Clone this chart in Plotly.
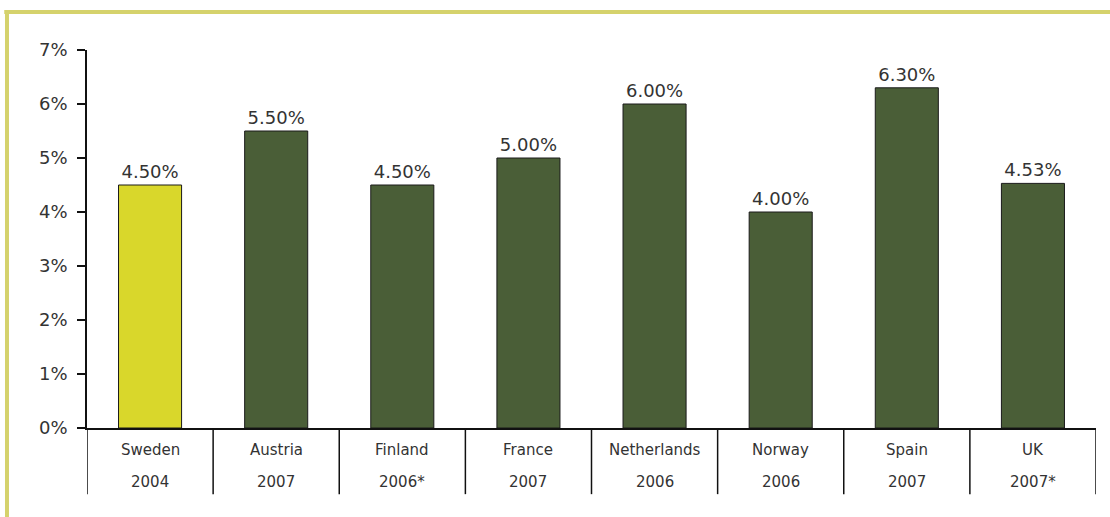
import plotly.graph_objects as go

countries = ["Sweden", "Austria", "Finland", "France", "Netherlands", "Norway", "Spain", "UK"]
years = ["2004", "2007", "2006*", "2007", "2006", "2006", "2007", "2007*"]
values = [4.50, 5.50, 4.50, 5.00, 6.00, 4.00, 6.30, 4.53]
bar_colors = ["#d9d72b", "#4a5e37", "#4a5e37", "#4a5e37", "#4a5e37", "#4a5e37", "#4a5e37", "#4a5e37"]
y_ticks = [0, 1, 2, 3, 4, 5, 6, 7]

FONT = "DejaVu Sans"
TXT = "#333333"

xs = list(range(len(countries)))

fig = go.Figure()
fig.add_trace(go.Bar(
    x=xs, y=values,
    width=0.5,
    marker=dict(color=bar_colors, line=dict(color="#1a1a1a", width=1)),
    texttemplate="%{y:.2f}%",
    textposition="outside",
    cliponaxis=False,
    textfont=dict(family=FONT, size=18, color=TXT),
    hoverinfo="skip",
))

shapes = []
for i in range(len(countries) + 1):
    shapes.append(dict(type="line", xref="x", yref="paper",
                       x0=i - 0.5, x1=i - 0.5, y0=0, y1=-0.175,
                       line=dict(color="#111111", width=1.5)))
shapes.append(dict(type="line", xref="paper", yref="paper",
                   x0=-0.082, x1=1.02, y0=1.1005, y1=1.1005,
                   line=dict(color="#d5d26c", width=4)))
shapes.append(dict(type="line", xref="paper", yref="paper",
                   x0=-0.0793, x1=-0.0793, y0=1.1005, y1=-0.25,
                   line=dict(color="#d5d26c", width=4)))

annotations = []
for i, (c, yv) in enumerate(zip(countries, years)):
    annotations.append(dict(x=i, y=-0.058, xref="x", yref="paper", text=c,
                            showarrow=False, yanchor="middle",
                            font=dict(family=FONT, size=15, color=TXT)))
    annotations.append(dict(x=i, y=-0.143, xref="x", yref="paper", text=yv,
                            showarrow=False, yanchor="middle",
                            font=dict(family=FONT, size=15, color=TXT)))

fig.update_layout(
    width=1110, height=517,
    margin=dict(l=87, r=14, t=50, b=89),
    paper_bgcolor="white", plot_bgcolor="white",
    showlegend=False,
    shapes=shapes,
    annotations=annotations,
    xaxis=dict(range=[-0.5, 7.5], showticklabels=False, ticks="",
               showgrid=False, zeroline=False, fixedrange=True,
               showline=True, linecolor="#111111", linewidth=1.5),
    yaxis=dict(range=[0, 7], tickvals=y_ticks, ticktext=[f"{v}%" for v in y_ticks],
               ticks="outside", ticklen=8, tickcolor="#111111", tickwidth=1.5,
               ticklabelstandoff=6, fixedrange=True,
               showgrid=False, zeroline=False,
               showline=True, linecolor="#111111", linewidth=1.5,
               tickfont=dict(family=FONT, size=18, color=TXT)),
    bargap=0.5,
)

fig.write_html("out.html", config={"displayModeBar": False},
               post_script="document.body.style.margin='0';")
